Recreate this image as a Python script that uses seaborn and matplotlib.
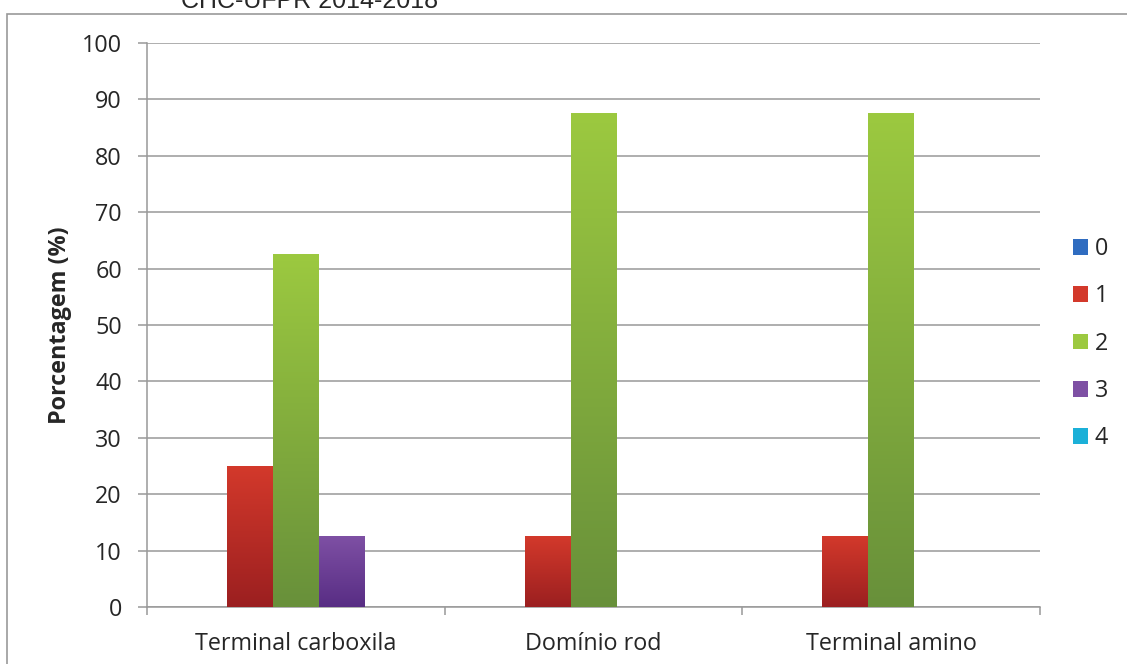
import numpy as np
import pandas as pd
import matplotlib
matplotlib.use("Agg")
import matplotlib.pyplot as plt
import seaborn as sns
from matplotlib.colors import LinearSegmentedColormap
from matplotlib.patches import Rectangle
from matplotlib.ticker import FixedLocator

# Data
regions = ["Terminal carboxila", "Domínio rod", "Terminal amino"]
levels = ["0", "1", "2", "3", "4"]
pct_0 = [0, 0, 0]
pct_1 = [25, 12.5, 12.5]
pct_2 = [62.5, 87.5, 87.5]
pct_3 = [12.5, 0, 0]
pct_4 = [0, 0, 0]
y_ticks = list(range(0, 101, 10))
title = "CHC-UFPR 2014-2018"
y_label = "Porcentagem (%)"

# (top, bottom) colours of each level's vertical gradient
shades = {
    "0": ("#2F6CC0", "#1E4C8C"),
    "1": ("#D3392B", "#9B1F20"),
    "2": ("#9CC940", "#68903A"),
    "3": ("#7E50A4", "#582D84"),
    "4": ("#1BB0D8", "#0E84A4"),
}

series = [pct_0, pct_1, pct_2, pct_3, pct_4]
df = pd.DataFrame({
    "Região": [r for _ in levels for r in regions],
    "Nível": [lvl for lvl in levels for _ in regions],
    "Porcentagem": [v for s in series for v in s],
})

sns.set_theme(style="white")
plt.rcParams["font.family"] = ["Open Sans", "DejaVu Sans"]

grey = "#999999"
txt = "#262626"
fs = 16.8
fig = plt.figure(figsize=(11.27, 6.64), dpi=100)
ax = fig.add_axes([147 / 1127, 57 / 664, 893 / 1127, 564 / 664])

sns.barplot(
    data=df, x="Região", y="Porcentagem", hue="Nível",
    order=regions, hue_order=levels,
    palette={k: v[0] for k, v in shades.items()},
    width=0.77, saturation=1, linewidth=0, ax=ax, zorder=3,
)

# vertical gradient fill on every bar
grad = np.linspace(0, 1, 256).reshape(-1, 1)
for container, lvl in zip(ax.containers, levels):
    top, bottom = shades[lvl]
    cmap = LinearSegmentedColormap.from_list(f"g{lvl}", [bottom, top])
    for bar in container:
        h = bar.get_height()
        if h <= 0:
            continue
        x0, w = bar.get_x(), bar.get_width()
        ax.imshow(grad, extent=[x0, x0 + w, 0, h], origin="lower",
                  cmap=cmap, aspect="auto", zorder=3.5, interpolation="bilinear")
        bar.set_facecolor("none")

ax.set_xlim(-0.5, 2.5)
ax.set_ylim(0, 100)
ax.set_yticks(y_ticks)
ax.yaxis.grid(True, color=grey, lw=1.1, zorder=0)
ax.set_axisbelow(True)

ax.set_xticks(range(len(regions)))
ax.set_xticklabels(regions)
ax.xaxis.set_minor_locator(FixedLocator([-0.5, 0.5, 1.5, 2.5]))
ax.tick_params(axis="x", which="major", length=0, pad=18, labelsize=fs, colors=txt)
ax.tick_params(axis="x", which="minor", bottom=True, length=6, width=1.1, color=grey)
ax.tick_params(axis="y", left=True, length=6.5, width=1.1, color=grey, pad=11.5,
               labelsize=fs, labelcolor=txt)

for side in ("top", "right"):
    ax.spines[side].set_visible(False)
for side in ("left", "bottom"):
    ax.spines[side].set_color(grey)
    ax.spines[side].set_linewidth(1.1)

ax.set_xlabel("")
ax.set_ylabel(y_label, fontsize=fs, fontweight="bold", color=txt, labelpad=7)

handles, labels = ax.get_legend_handles_labels()
ax.legend(handles, labels, loc="center left", bbox_to_anchor=(1.0365, 0.467),
          frameon=False, fontsize=fs, handlelength=0.65, handleheight=0.65,
          handletextpad=0.3, labelspacing=1.0, borderpad=0, borderaxespad=0,
          labelcolor=txt)

# outer chart border and heading
fig.add_artist(Rectangle((7 / 1127, -0.05), 1.2, 650 / 664 + 0.05,
                         transform=fig.transFigure, fill=False,
                         edgecolor=grey, lw=1.2))
fig.text(310 / 1127, 1 - 8 / 664, title, ha="center", va="baseline",
         fontsize=18, family=["Liberation Sans", "DejaVu Sans"], color=txt)

fig.savefig("out.png", dpi=100)
